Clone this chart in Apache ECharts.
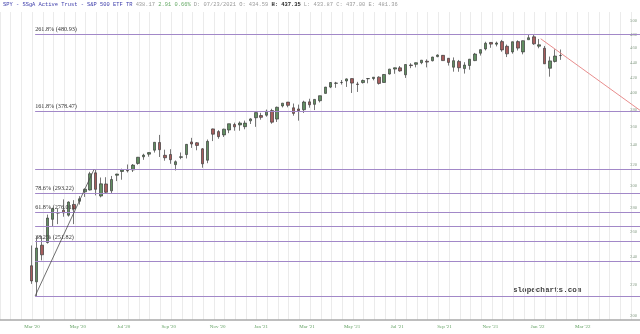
<!DOCTYPE html>
<html>
<head>
<meta charset="utf-8">
<script src="https://cdn.jsdelivr.net/npm/echarts@6.0.0/dist/echarts.min.js"></script>
<style>
html,body{margin:0;padding:0;background:#fff;}
#c{width:640px;height:334px;}
</style>
</head>
<body>
<div id="c"></div>
<script>
// ---- data (weekly candles, dividend-adjusted) ----
var weekDates = [
'2020-03-18','2020-03-25','2020-04-01','2020-04-08','2020-04-15','2020-04-22','2020-04-29','2020-05-06','2020-05-13','2020-05-20',
'2020-05-27','2020-06-03','2020-06-10','2020-06-17','2020-06-24','2020-07-01','2020-07-08','2020-07-15','2020-07-22','2020-07-29',
'2020-08-05','2020-08-12','2020-08-19','2020-08-26','2020-09-02','2020-09-09','2020-09-16','2020-09-23','2020-09-30','2020-10-07',
'2020-10-14','2020-10-21','2020-10-28','2020-11-04','2020-11-11','2020-11-18','2020-11-25','2020-12-02','2020-12-09','2020-12-16',
'2020-12-23','2020-12-30','2021-01-06','2021-01-13','2021-01-20','2021-01-27','2021-02-03','2021-02-10','2021-02-17','2021-02-24',
'2021-03-03','2021-03-10','2021-03-17','2021-03-24','2021-03-31','2021-04-07','2021-04-14','2021-04-21','2021-04-28','2021-05-05',
'2021-05-12','2021-05-19','2021-05-26','2021-06-02','2021-06-09','2021-06-16','2021-06-23','2021-06-30','2021-07-07','2021-07-14',
'2021-07-21','2021-07-28','2021-08-04','2021-08-11','2021-08-18','2021-08-25','2021-09-01','2021-09-08','2021-09-15','2021-09-22',
'2021-09-29','2021-10-06','2021-10-13','2021-10-20','2021-10-27','2021-11-03','2021-11-10','2021-11-17','2021-11-24','2021-12-01',
'2021-12-08','2021-12-15','2021-12-22','2021-12-29','2022-01-05','2022-01-12','2022-01-19','2022-01-26','2022-02-02','2022-02-09'
];
var opens = [
233.7,222.3,249.1,251.2,270.0,275.3,277.8,273.5,282.8,285.6,
294.1,295.8,312.0,290.3,301.4,295.0,309.7,313.3,314.6,314.8,
321.3,328.0,330.7,334.8,342.9,329.5,330.3,320.1,327.4,330.3,
343.5,342.6,336.2,324.5,357.7,354.7,351.1,356.5,362.6,362.2,
360.2,366.8,370.4,372.9,373.3,378.7,368.8,384.2,388.8,382.0,
380.6,379.7,389.1,386.1,390.5,399.5,407.4,412.2,413.3,415.2,
418.3,411.3,413.2,418.1,418.4,420.2,413.3,424.3,430.9,432.5,
423.3,436.4,437.3,439.5,441.5,442.2,447.9,449.7,445.6,433.4,
441.3,431.5,435.7,442.4,452.7,458.7,468.1,465.6,469.3,462.5,
454.5,469.3,454.5,472.1,476.3,462.7,459.7,432.0,441.2,449.5
];
var highs = [
248.9,256.0,256.5,274.0,279.9,279.4,287.3,285.5,286.6,290.2,
297.2,313.0,315.1,307.5,307.8,309.0,311.1,316.1,320.2,320.7,
327.8,331.1,332.5,343.2,351.1,335.3,335.8,324.3,332.4,341.3,
347.9,343.3,337.0,346.1,358.1,356.3,357.9,363.5,364.7,366.1,
367.1,369.8,376.5,376.1,379.9,380.8,383.4,387.8,389.0,387.1,
385.8,390.5,392.9,392.5,396.7,407.6,413.8,414.1,416.5,418.6,
418.5,414.1,417.1,418.7,420.4,421.3,424.2,431.2,432.9,435.0,
437.3,438.8,439.9,443.3,444.1,447.7,451.0,450.1,445.9,446.8,
443.3,440.2,444.7,453.1,458.0,469.1,468.6,469.3,471.8,465.0,
469.3,471.2,470.9,479.0,480.0,473.2,463.0,448.0,458.1,457.9
];
var lows = [
220.9,212.7,237.6,250.4,264.4,266.0,272.2,272.3,266.0,282.7,
289.5,295.4,290.9,289.1,293.0,292.5,304.1,305.4,312.4,312.8,
320.0,324.9,328.1,332.3,327.8,324.0,320.9,314.3,325.5,326.3,
337.2,334.7,317.0,321.5,344.4,346.9,348.8,353.0,355.7,355.7,
357.3,363.2,360.0,368.1,371.6,363.5,365.5,382.4,382.6,372.7,
367.0,375.9,382.1,379.3,388.4,399.4,406.1,406.5,410.6,407.6,
400.0,401.3,411.9,412.2,416.1,410.6,413.1,423.7,424.6,427.4,
419.2,432.1,433.2,437.5,433.2,441.3,447.0,442.2,435.6,427.4,
427.3,424.9,430.0,441.7,449.4,456.6,460.4,462.4,454.8,447.3,
452.0,456.5,451.1,472.1,464.6,459.7,437.8,420.8,439.8,443.4
];
var closes = [
222.9,246.9,241.8,271.1,279.2,275.7,275.5,284.9,278.9,287.8,
296.5,311.1,296.4,301.5,293.7,305.6,310.8,314.9,314.0,319.6,
327.5,329.7,332.3,343.1,335.3,327.0,325.0,323.0,328.0,340.9,
341.3,339.8,320.9,344.1,351.9,349.2,357.4,363.5,360.0,364.3,
364.2,369.0,376.3,370.8,377.9,365.3,382.6,387.5,384.9,375.4,
378.6,388.9,385.6,392.1,396.6,407.4,413.2,412.6,413.2,417.9,
412.5,410.8,415.8,418.4,420.1,412.1,423.7,430.8,432.6,428.4,
437.0,435.6,439.5,442.9,440.4,447.3,450.1,442.4,439.9,442.3,
432.7,436.3,444.3,451.5,457.7,466.9,465.7,467.3,457.4,451.8,
469.1,459.9,470.6,475.0,466.1,464.7,438.0,442.0,448.7,449.3
];

// Fibonacci levels (from the 2020-03-23 low to the 2020-06-08 high)
var fibStart = '2020-03-23';
var fibEndAnchor = '2020-06-08';
var fibLevels = [212.69, 236.87, 251.83, 263.92, 276.01, 293.22, 315.15, 378.47, 480.93];
var fibLabels = ['', '', '38.2% (251.82)', '', '61.8% (276.01)', '78.6% (293.22)', '', '161.8% (378.47)', '261.8% (480.93)'];

// red resistance line (through the Jan-12 and Feb-02 highs, extended)
var redLineDates = ['2022-01-14', '2022-05-24'];
var redLineValues = [473.5, 379.0];

// axes
var xMinDate = '2020-02-06';
var xMaxDate = '2022-05-24';
var yMin = 197.4, yMax = 514.6;
var yTicks = [200,220,240,260,280,300,320,340,360,380,400,420,440,460,480,500];
var xLabelDates = ['2020-03-19','2020-05-18','2020-07-17','2020-09-14','2020-11-17','2021-01-13','2021-03-14','2021-05-12','2021-07-10','2021-09-10','2021-11-09','2022-01-10','2022-03-10'];
var xLabelTexts = ["Mar '20","May '20","Jul '20","Sep '20","Nov '20","Jan '21","Mar '21","May '21","Jul '21","Sep '21","Nov '21","Jan '22","Mar '22"];

var headerParts = {
  title: 'SPY - SSgA Active Trust - S&P 500 ETF TR',
  last: '438.17', chg: '2.91 0.66%', d: 'D: 07/23/2021', o: 'O: 434.59',
  h: 'H: 437.35', l: 'L: 433.87', c: 'C: 437.00', e: 'E: 481.36'
};

// ---- build ----
function ts(s){ return new Date(s + 'T00:00:00').getTime(); }
var candleData = weekDates.map(function(d, i){ return [ts(d), opens[i], closes[i], lows[i], highs[i]]; });
var xLabelTs = xLabelDates.map(ts);

var fibColor = '#a288c8';
var markData = fibLevels.map(function(v, i){
  return [
    {coord:[ts(fibStart), v],
     label:{show: !!fibLabels[i], formatter: fibLabels[i], position:'insideStartTop', distance:[0,1.5],
            color:'#333', fontSize:6.2, fontFamily:'Liberation Serif'}},
    {coord:[ts(xMaxDate), v]}
  ];
});
markData.push([
  {coord:[ts(fibStart), fibLevels[0]], lineStyle:{color:'#4a4a4a', width:0.8, type:'solid'}, label:{show:false}},
  {coord:[ts(fibEndAnchor), fibLevels[6]], lineStyle:{color:'#4a4a4a', width:0.8, type:'solid'}}
]);
markData.push([
  {coord:[ts(redLineDates[0]), redLineValues[0]], lineStyle:{color:'#e58080', width:0.9, type:'solid'}, label:{show:false}},
  {coord:[ts(redLineDates[1]), redLineValues[1]], lineStyle:{color:'#e58080', width:0.9, type:'solid'}}
]);

var chart = echarts.init(document.getElementById('c'), null, {renderer:'canvas'});
chart.setOption({
  animation:false,
  backgroundColor:'#ffffff',
  grid:{left:0, right:0, top:12, bottom:14, containLabel:false},
  xAxis:[{
    type:'value', min:ts(xMinDate), max:ts(xMaxDate), scale:true,
    axisLine:{show:true, onZero:false, lineStyle:{color:'#a8a8a8', width:1.5}},
    axisTick:{show:false},
    splitLine:{show:false},
    axisLabel:{
      customValues: xLabelTs, margin:4, color:'#5f9f5f', fontSize:5, fontFamily:'Liberation Serif',
      formatter:function(v){
        var best = 0, bd = Infinity;
        for (var i = 0; i < xLabelTs.length; i++){ var dd = Math.abs(xLabelTs[i]-v); if (dd < bd){ bd = dd; best = i; } }
        return xLabelTexts[best];
      }
    }
  },{
    type:'value', min:ts(xMinDate), max:ts(xMaxDate), interval:14*86400000, scale:true,
    position:'top', axisLine:{show:false}, axisTick:{show:false}, axisLabel:{show:false},
    splitLine:{show:true, lineStyle:{color:'#ebebeb', width:1}}
  }],
  yAxis:{
    type:'log', logBase:10, min:yMin, max:yMax, position:'right',
    axisLine:{show:false}, axisTick:{show:false}, splitLine:{show:false},
    axisLabel:{inside:true, customValues: yTicks, margin:3, color:'#8aa08a', fontSize:4.6, fontFamily:'Liberation Serif',
      formatter:function(v){ return String(Math.round(v)); }}
  },
  graphic:[
    {type:'text', left:3, top:2, style:{
      text:'{t|' + headerParts.title + '} {g|' + headerParts.last + '} {gr|' + headerParts.chg + '} {g|' + headerParts.d + '} {g|' + headerParts.o + '} {b|' + headerParts.h + '} {g|' + headerParts.l + '} {g|' + headerParts.c + '} {g|' + headerParts.e + '}',
      font:'5.4px "Liberation Mono"',
      rich:{
        t:{fill:'#3c3caa', font:'5.4px "Liberation Mono"'},
        g:{fill:'#9a9a9a', font:'5.4px "Liberation Mono"'},
        gr:{fill:'#66aa66', font:'5.4px "Liberation Mono"'},
        b:{fill:'#222', font:'bold 5.4px "Liberation Mono"'}
      }
    }},
    {type:'text', left:513, top:286, style:{text:'slopecharts.com', fill:'#3f3f3f', font:'bold 7.6px "Liberation Mono"'}}
  ],
  series:[{
    type:'candlestick', xAxisIndex:0, yAxisIndex:0,
    data:candleData, barWidth:3,
    itemStyle:{color:'#628f62', color0:'#a85e5e', borderColor:'#3c3c3c', borderColor0:'#3c3c3c', borderWidth:0.7},
    markLine:{silent:true, symbol:['none','none'], animation:false,
      lineStyle:{color:fibColor, width:1.2, type:'solid', opacity:1},
      emphasis:{disabled:true},
      data:markData}
  }]
});
</script>
</body>
</html>
